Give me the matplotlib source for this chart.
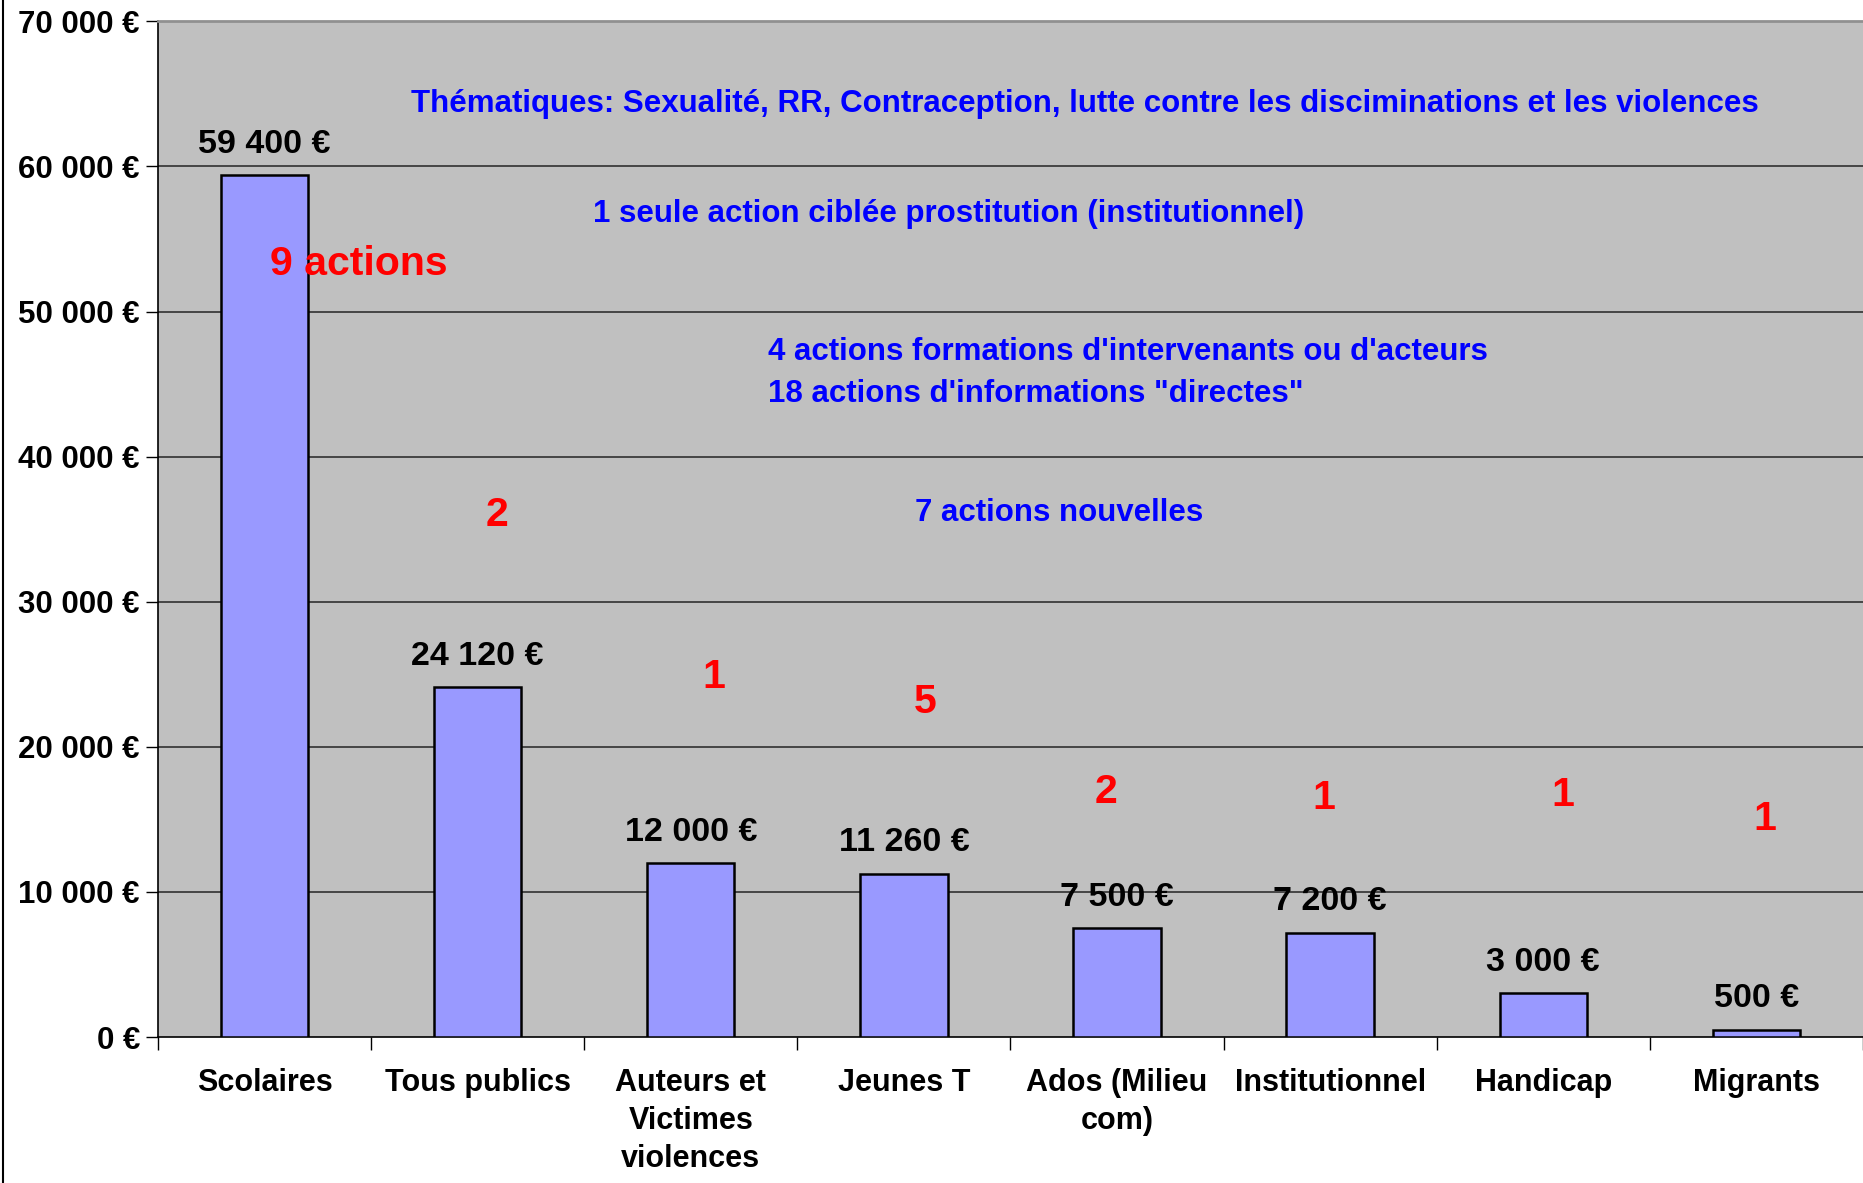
import matplotlib.pyplot as plt
from matplotlib.lines import Line2D
from matplotlib.ticker import FuncFormatter, FixedLocator

categories = ["Scolaires", "Tous publics", "Auteurs et\nVictimes\nviolences", "Jeunes T",
              "Ados (Milieu\ncom)", "Institutionnel", "Handicap", "Migrants"]
montants = [59400, 24120, 12000, 11260, 7500, 7200, 3000, 500]
nb_actions = ["9 actions", "2", "1", "5", "2", "1", "1", "1"]

notes_bleues = [
    "Thématiques: Sexualité, RR, Contraception, lutte contre les disciminations et les violences",
    "1 seule action ciblée prostitution (institutionnel)",
    "4 actions formations d'intervenants ou d'acteurs\n18 actions d'informations \"directes\"",
    "7 actions nouvelles",
]


def euro(v, pos=None):
    return f"{v:,.0f}".replace(",", " ") + " €"


plt.rcParams['font.family'] = ['Liberation Sans', 'DejaVu Sans']
plt.rcParams['font.weight'] = 'bold'

fig = plt.figure(figsize=(18.63, 11.83), dpi=100)
ax = fig.add_axes([0.0848, 0.1234, 0.9152, 0.8586])
ax.set_facecolor('#C0C0C0')

x = list(range(len(categories)))
ax.bar(x, montants, width=0.41, color='#9999FF', edgecolor='black', linewidth=1.8, zorder=3)

ax.set_xlim(-0.5, len(categories) - 0.5)
ax.set_ylim(0, 70000)
ax.set_yticks(range(0, 70001, 10000))
ax.yaxis.set_major_formatter(FuncFormatter(euro))
for y in range(10000, 70000, 10000):
    ax.axhline(y, color='#303030', linewidth=1.2, zorder=1)

ax.set_xticks(x)
ax.set_xticklabels(categories, fontsize=22, fontweight='bold', linespacing=1.35)
ax.xaxis.set_minor_locator(FixedLocator([i - 0.5 for i in range(len(categories) + 1)]))
ax.tick_params(axis='x', which='major', length=0, pad=22)
ax.tick_params(axis='x', which='minor', length=9, width=1, color='black', direction='out')
ax.tick_params(axis='y', length=9, width=1, direction='out', pad=4, labelsize=22.5)
for lab in ax.get_yticklabels():
    lab.set_fontweight('bold')

for s in ['left', 'bottom']:
    ax.spines[s].set_color('black')
    ax.spines[s].set_linewidth(1.2)
ax.spines['top'].set_color('#909090')
ax.spines['top'].set_linewidth(2)
ax.spines['right'].set_visible(False)

for xi, v in zip(x, montants):
    ax.annotate(euro(v), (xi, v), xytext=(0, 11), textcoords='offset points',
                ha='center', va='bottom', fontsize=24.5, fontweight='bold', color='black')

# nombre d'actions par public
pos_rouges = [(0.44, 53300), (1.09, 35950), (2.11, 24800), (3.10, 23100),
              (3.95, 16900), (4.97, 16450), (6.09, 16650), (7.04, 15000)]
for (px, py), t in zip(pos_rouges, nb_actions):
    ax.text(px, py, t, color='#FF0000', fontsize=29.5, fontweight='bold', ha='center',
            va='center', zorder=4)

pos_bleues = [(3.85, 64300, 'center'), (3.21, 56700, 'center'),
              (2.36, 45750, 'left'), (3.73, 36120, 'center')]
for (px, py, ha), t in zip(pos_bleues, notes_bleues):
    ax.text(px, py, t, color='#0000FF', fontsize=22.5, fontweight='bold', ha=ha, va='center',
            linespacing=1.55, zorder=4)

fig.add_artist(Line2D([0.0018, 0.0018], [0, 1], color='black', linewidth=1.5))

fig.savefig('out.png', dpi=100)
